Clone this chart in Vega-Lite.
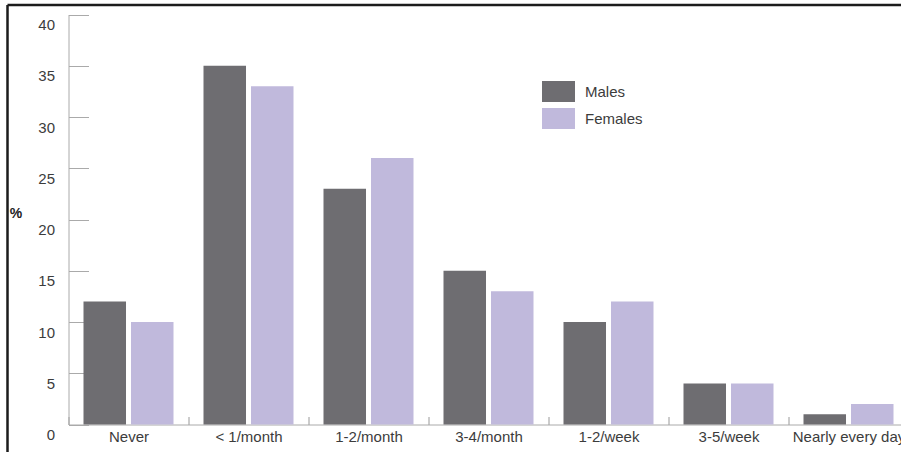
{
  "$schema": "https://vega.github.io/schema/vega-lite/v6.json",
  "autosize": {"type": "none"},
  "padding": {"left": 7.5, "top": 5, "right": 0, "bottom": 0},
  "width": 893.5,
  "height": 447,
  "background": "white",
  "config": {
    "view": {"stroke": "#1c1c1c", "strokeWidth": 2.5, "strokeDash": [893.5, 1340.5, 447, 0]},
    "font": "Liberation Sans"
  },
  "data": {
    "values": [
      {"frequency": "Never", "sex": "Males", "percent": 12},
      {"frequency": "Never", "sex": "Females", "percent": 10},
      {"frequency": "< 1/month", "sex": "Males", "percent": 35},
      {"frequency": "< 1/month", "sex": "Females", "percent": 33},
      {"frequency": "1-2/month", "sex": "Males", "percent": 23},
      {"frequency": "1-2/month", "sex": "Females", "percent": 26},
      {"frequency": "3-4/month", "sex": "Males", "percent": 15},
      {"frequency": "3-4/month", "sex": "Females", "percent": 13},
      {"frequency": "1-2/week", "sex": "Males", "percent": 10},
      {"frequency": "1-2/week", "sex": "Females", "percent": 12},
      {"frequency": "3-5/week", "sex": "Males", "percent": 4},
      {"frequency": "3-5/week", "sex": "Females", "percent": 4},
      {"frequency": "Nearly every day", "sex": "Males", "percent": 1},
      {"frequency": "Nearly every day", "sex": "Females", "percent": 2}
    ]
  },
  "mark": {"type": "bar"},
  "encoding": {
    "x": {
      "field": "frequency",
      "type": "nominal",
      "sort": ["Never", "< 1/month", "1-2/month", "3-4/month", "1-2/week", "3-5/week", "Nearly every day"],
      "scale": {"range": [61, 901], "paddingInner": 0.25, "paddingOuter": 0.125},
      "axis": {
        "title": null,
        "offset": -27.5,
        "domainColor": "#aaaaaa",
        "domainWidth": 1,
        "bandPosition": 0,
        "tickOffset": -15,
        "tickSize": -8,
        "tickColor": "#999999",
        "labelAngle": 0,
        "labelFontSize": 15,
        "labelColor": "#3c3c3c",
        "labelPadding": 13,
        "labelOffset": 15,
        "labelBaseline": "top"
      }
    },
    "xOffset": {
      "field": "sex",
      "sort": ["Males", "Females"],
      "scale": {"paddingInner": 0.105, "paddingOuter": 0}
    },
    "y": {
      "field": "percent",
      "type": "quantitative",
      "scale": {"domain": [0, 40], "range": [419.5, 9.5], "nice": false},
      "axis": {
        "title": "%",
        "titleAngle": 0,
        "titleX": -53,
        "titleY": 208,
        "titleAlign": "center",
        "titleBaseline": "middle",
        "titleFontSize": 14,
        "titleFontWeight": "bold",
        "titleColor": "#222222",
        "offset": -61,
        "values": [0, 5, 10, 15, 20, 25, 30, 35, 40],
        "grid": false,
        "domainColor": "#aaaaaa",
        "tickColor": "#aaaaaa",
        "tickSize": -20,
        "labelFontSize": 15,
        "labelColor": "#3c3c3c",
        "labelPadding": 34,
        "labelOffset": 10
      }
    },
    "color": {
      "field": "sex",
      "type": "nominal",
      "sort": ["Males", "Females"],
      "scale": {"domain": ["Males", "Females"], "range": ["#6e6d71", "#c0b9dc"]},
      "legend": {
        "orient": "none",
        "legendX": 534.5,
        "legendY": 70,
        "title": null,
        "padding": 0,
        "symbolType": "M-1,-0.636H1V0.636H-1Z",
        "symbolSize": 1089,
        "symbolStrokeWidth": 0,
        "symbolOpacity": 1,
        "labelFontSize": 15,
        "labelColor": "#3c3c3c",
        "labelOffset": 10,
        "rowPadding": -7
      }
    }
  }
}
